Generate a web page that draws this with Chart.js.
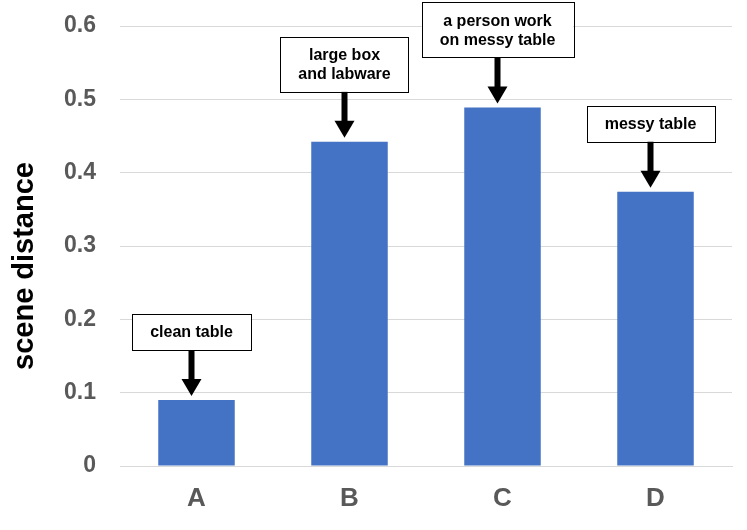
<!DOCTYPE html>
<html>
<head>
<meta charset="utf-8">
<script src="https://cdn.jsdelivr.net/npm/chart.js@4"></script>
<style>
html,body{margin:0;padding:0;background:#fff;}
#wrap{width:747px;height:530px;position:relative;}
</style>
</head>
<body>
<div id="wrap"><canvas id="c" width="747" height="530"></canvas></div>
<script>
const categories = ['A', 'B', 'C', 'D'];
const sceneDistance = [0.09, 0.442, 0.489, 0.374];
const notes = [['clean table'], ['large box', 'and labware'], ['a person work', 'on messy table'], ['messy table']];
const yTitle = 'scene distance';

const FONT = "'Liberation Sans', Arial, sans-serif";

const calloutPlugin = {
  id: 'callouts',
  afterDatasetsDraw(chart) {
    const ctx = chart.ctx;
    const meta = chart.getDatasetMeta(0);
    ctx.save();
    ctx.font = 'bold 16px ' + FONT;
    const lineH = 19;
    meta.data.forEach((bar, i) => {
      const lines = notes[i];
      const cx = bar.x - 5;
      const tipY = bar.y - 4;
      const boxBottom = bar.y - 50;
      const boxH = lines.length === 1 ? 36 : 55;
      const tw = Math.max(...lines.map(l => ctx.measureText(l).width));
      const boxW = tw + 36;
      const boxTop = boxBottom - boxH;
      ctx.fillStyle = '#fff';
      ctx.fillRect(cx - boxW / 2, boxTop, boxW, boxH);
      ctx.strokeStyle = '#000';
      ctx.lineWidth = 1;
      ctx.strokeRect(Math.round(cx - boxW / 2) + 0.5, Math.round(boxTop) + 0.5, Math.round(boxW), Math.round(boxH));
      ctx.fillStyle = '#000';
      ctx.textAlign = 'center';
      ctx.textBaseline = 'middle';
      const midY = boxTop + boxH / 2 + 1;
      lines.forEach((l, k) => {
        ctx.fillText(l, cx, midY + (k - (lines.length - 1) / 2) * lineH);
      });
      const headH = 17, headW = 20, shaftW = 6;
      ctx.fillRect(cx - shaftW / 2, boxBottom, shaftW, tipY - headH - boxBottom + 1);
      ctx.beginPath();
      ctx.moveTo(cx - headW / 2, tipY - headH);
      ctx.lineTo(cx + headW / 2, tipY - headH);
      ctx.lineTo(cx, tipY);
      ctx.closePath();
      ctx.fill();
    });
    ctx.restore();
  }
};

const titlePlugin = {
  id: 'yTitle',
  afterDraw(chart) {
    const ctx = chart.ctx;
    ctx.save();
    ctx.translate(33, 266);
    ctx.rotate(-Math.PI / 2);
    ctx.font = 'bold 29px ' + FONT;
    ctx.fillStyle = '#000';
    ctx.textAlign = 'center';
    ctx.textBaseline = 'alphabetic';
    ctx.fillText(yTitle, 0, 0);
    ctx.restore();
  }
};

new Chart(document.getElementById('c'), {
  type: 'bar',
  data: {
    labels: categories,
    datasets: [{
      data: sceneDistance,
      backgroundColor: '#4472c4',
      borderWidth: 0,
      categoryPercentage: 1.0,
      barPercentage: 0.5
    }]
  },
  options: {
    responsive: false,
    animation: false,
    devicePixelRatio: 1,
    layout: { padding: { top: 26, right: 15, left: 0, bottom: 0 } },
    plugins: { legend: { display: false }, tooltip: { enabled: false } },
    scales: {
      x: {
        grid: { display: false, drawTicks: false },
        border: { display: true, color: '#d9d9d9', width: 1 },
        ticks: { color: '#595959', font: { family: FONT, size: 26, weight: 'bold' }, padding: 17 },
        afterFit: s => { s.height = 64; s.paddingLeft = 0; s.paddingRight = 0; }
      },
      y: {
        min: 0, max: 0.6,
        grid: { color: '#d9d9d9', lineWidth: 1, drawTicks: false },
        border: { display: false },
        ticks: {
          stepSize: 0.1,
          color: '#595959',
          padding: 24,
          font: { family: FONT, size: 23, weight: 'bold' },
          callback: v => (Math.round(v * 10) / 10).toString()
        },
        title: { display: false },
        afterFit: s => { s.width = 120; s.paddingTop = 0; s.paddingBottom = 0; }
      }
    }
  },
  plugins: [calloutPlugin, titlePlugin]
});
</script>
</body>
</html>
